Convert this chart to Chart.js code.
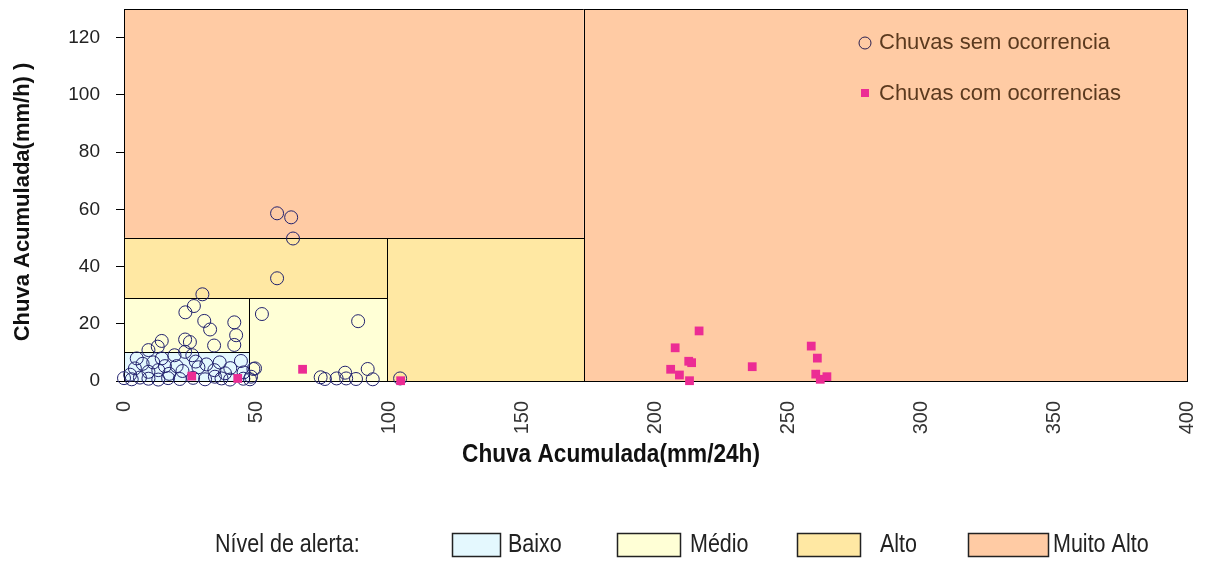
<!DOCTYPE html>
<html>
<head>
<meta charset="utf-8">
<script src="https://cdn.jsdelivr.net/npm/chart.js@4.4.1/dist/chart.umd.min.js"></script>
<style>
  html,body{margin:0;padding:0;background:#fff;}
  #wrap{position:relative;width:1206px;height:563px;}
</style>
</head>
<body>
<div id="wrap"><canvas id="c" width="1206" height="563"></canvas></div>
<script>
// ---- data ----
const xTicks = [0, 50, 100, 150, 200, 250, 300, 350, 400];
const yTicks = [0, 20, 40, 60, 80, 100, 120];
const xMax = 400, yMax = 130;

const xTitle = 'Chuva Acumulada(mm/24h)';
const yTitle = 'Chuva Acumulada(mm/h) )';
const seriesNames = ['Chuvas sem ocorrencia', 'Chuvas com ocorrencias'];

const semX = [57.6, 62.9, 63.6, 57.6, 51.9, 88.1,
  29.5, 26.3, 23.1, 30.2, 32.4, 41.5, 42.2, 41.5, 23.0, 14.2, 12.7, 33.9, 25.7, 23.0,
  9.2, 4.8, 14.2, 19.8, 4.1, 9.2, 12.9, 15.4, 28.0, 34.0, 38.0, 34.2, 49.3, 47.8,
  0.0, 2.9, 6.0, 9.2, 12.9, 16.6, 21.0, 26.0, 30.5, 36.7, 39.9, 44.9, 2.3, 24.8,
  7.0, 17.0, 22.0, 31.0, 36.0, 44.0, 11.0, 19.0, 27.0, 40.0, 45.0,
  48.7, 47.4, 74.0, 75.6, 80.0, 83.2, 83.6, 87.3, 91.7, 93.6, 103.9];
const semY = [58.6, 57.2, 49.8, 35.9, 23.4, 20.9,
  30.3, 26.2, 24.0, 21.0, 18.0, 20.5, 16.0, 12.6, 14.5, 14.0, 12.0, 12.4, 9.0, 10.2,
  10.8, 7.9, 7.9, 5.2, 4.4, 3.2, 3.8, 5.2, 4.8, 3.8, 2.7, 1.5, 4.4, 1.5,
  1.0, 0.6, 1.2, 0.8, 0.5, 1.0, 0.7, 1.1, 0.6, 0.9, 0.5, 0.8, 2.2, 13.6,
  6.0, 2.5, 3.5, 5.8, 6.5, 7.0, 6.5, 9.0, 6.8, 4.5, 3.0,
  4.2, 0.6, 1.3, 0.7, 0.9, 2.9, 0.9, 0.7, 4.2, 0.6, 0.9];

const comX = [25.5, 42.8, 67.2, 104.1, 216.4, 207.4, 205.7, 209.0, 212.5, 213.6, 212.8,
  236.4, 258.6, 260.9, 260.3, 262.0, 264.5];
const comY = [1.7, 0.9, 4.1, 0.1, 17.5, 11.6, 4.1, 2.1, 6.9, 6.4, 0.1,
  5.0, 12.2, 8.0, 2.4, 0.6, 1.5];

// alert levels and their regions (value ranges)
const levelNames = ['Baixo', 'Médio', 'Alto', 'Muito Alto'];
const levelColors = ['#E4F8FE', '#FFFFD6', '#FFE8A3', '#FFCBA4'];
const regionLevel = [3, 3, 2, 2, 1, 1, 0];
const regionX0 = [0, 173, 0, 99, 0, 47, 0];
const regionX1 = [173, 400, 99, 173, 47, 99, 47];
const regionY0 = [0, 0, 0, 0, 0, 0, 0];
const regionY1 = [130, 130, 50, 50, 29, 29, 10];
const legendTitle = 'Nível de alerta:';

const toPts = (xs, ys) => xs.map((x, i) => ({x: x, y: ys[i]}));

const FONT = '"Liberation Sans", Arial, sans-serif';

function narrowText(ctx, text, x, y, sx) {
  ctx.save();
  ctx.translate(x, y);
  ctx.scale(sx, 1);
  ctx.fillText(text, 0, 0);
  ctx.restore();
}

const regionsPlugin = {
  id: 'regions',
  beforeDatasetsDraw(chart) {
    const {ctx, scales: {x, y}} = chart;
    ctx.save();
    for (let i = 0; i < regionLevel.length; i++) {
      const px0 = x.getPixelForValue(regionX0[i]);
      const px1 = x.getPixelForValue(regionX1[i]);
      const py0 = y.getPixelForValue(regionY0[i]);
      const py1 = y.getPixelForValue(regionY1[i]);
      ctx.fillStyle = levelColors[regionLevel[i]];
      ctx.fillRect(px0, py1, px1 - px0, py0 - py1);
      ctx.strokeStyle = '#000';
      ctx.lineWidth = 1;
      ctx.strokeRect(Math.round(px0) + 0.5, Math.round(py1) + 0.5,
        Math.round(px1 - px0), Math.round(py0 - py1));
    }
    ctx.restore();
  },
  afterDraw(chart) {
    const ctx = chart.ctx;
    ctx.save();
    // axis titles
    ctx.fillStyle = '#111';
    ctx.textBaseline = 'middle';
    ctx.textAlign = 'center';
    ctx.font = 'bold 26px ' + FONT;
    narrowText(ctx, xTitle, 611, 455, 0.87);
    ctx.font = 'bold 22px ' + FONT;
    ctx.save();
    ctx.translate(23, 202);
    ctx.rotate(-Math.PI / 2);
    ctx.fillText(yTitle, 0, 0);
    ctx.restore();

    // series legend inside plot
    ctx.font = '22px ' + FONT;
    ctx.textAlign = 'left';
    ctx.fillStyle = '#5B3A1F';
    ctx.fillText(chart.data.datasets[1].label, 879, 43);
    ctx.fillText(chart.data.datasets[0].label, 879, 94);
    ctx.beginPath();
    ctx.arc(865, 43, 6, 0, Math.PI * 2);
    ctx.strokeStyle = '#2a2050';
    ctx.lineWidth = 1;
    ctx.stroke();
    ctx.fillStyle = '#EC2C94';
    ctx.fillRect(861, 89, 8, 8);

    // level legend below
    ctx.fillStyle = '#222';
    ctx.font = '25px ' + FONT;
    narrowText(ctx, legendTitle, 215, 545, 0.86);
    const boxX = [452, 617, 797, 968];
    const boxW = [48, 63, 63, 80];
    const txtX = [508, 690, 880, 1053];
    for (let i = 0; i < levelNames.length; i++) {
      ctx.fillStyle = levelColors[i];
      ctx.fillRect(boxX[i], 533, boxW[i], 23);
      ctx.strokeStyle = '#222';
      ctx.lineWidth = 1.5;
      ctx.strokeRect(boxX[i] + 0.5, 533.5, boxW[i], 23);
      ctx.fillStyle = '#222';
      narrowText(ctx, levelNames[i], txtX[i], 545, 0.86);
    }
    ctx.restore();
  }
};

new Chart(document.getElementById('c'), {
  type: 'scatter',
  data: {
    datasets: [
      {
        label: seriesNames[1],
        data: toPts(comX, comY),
        pointStyle: 'rect',
        pointRadius: 6.2,
        backgroundColor: '#EC2C94',
        borderColor: '#EC2C94',
        borderWidth: 0,
        clip: false,
        order: 0
      },
      {
        label: seriesNames[0],
        data: toPts(semX, semY),
        pointStyle: 'circle',
        pointRadius: 6.5,
        backgroundColor: 'rgba(0,0,0,0)',
        borderColor: '#22226e',
        borderWidth: 1,
        clip: false,
        order: 1
      }
    ]
  },
  options: {
    responsive: false,
    animation: false,
    events: [],
    layout: {padding: {left: 0, right: 19, top: 9, bottom: 0}},
    plugins: {legend: {display: false}, tooltip: {enabled: false}},
    scales: {
      x: {
        type: 'linear', min: 0, max: xMax,
        afterFit(s) { s.height = 182; s.paddingLeft = 0; s.paddingRight = 0; },
        afterBuildTicks(s) { s.ticks = xTicks.map(v => ({value: v})); },
        grid: {display: false, drawTicks: false},
        border: {display: false},
        ticks: {
          minRotation: 90, maxRotation: 90, padding: 20,
          color: '#333', font: {family: FONT, size: 20}
        },
        title: {display: false, text: xTitle}
      },
      y: {
        type: 'linear', min: 0, max: yMax,
        afterFit(s) { s.width = 124; s.paddingTop = 0; s.paddingBottom = 0; },
        afterBuildTicks(s) { s.ticks = yTicks.map(v => ({value: v})); },
        grid: {display: true, drawOnChartArea: false, drawTicks: true, tickLength: 8, color: '#000'},
        border: {display: false},
        ticks: {padding: 16, color: '#222', font: {family: FONT, size: 19}},
        title: {display: false, text: yTitle}
      }
    }
  },
  plugins: [regionsPlugin]
});
</script>
</body>
</html>
